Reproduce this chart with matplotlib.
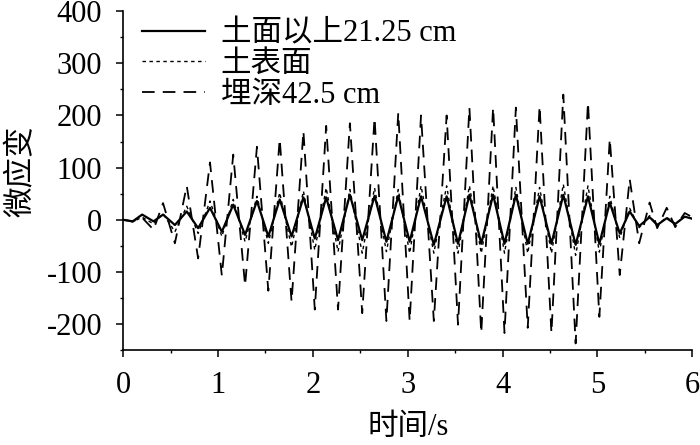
import numpy as np
import matplotlib
matplotlib.use("Agg")
import matplotlib.pyplot as plt
from matplotlib.ticker import MultipleLocator

plt.rcParams['font.family'] = ['Liberation Serif', 'Noto Sans CJK SC']
plt.rcParams['axes.unicode_minus'] = False

# time of each extremum (s), shared by the three gauges
t_ext = [0.00, 0.10, 0.20, 0.32, 0.42, 0.545, 0.67, 0.79, 0.915, 1.04,
         1.16, 1.285, 1.41, 1.53, 1.65, 1.775, 1.90, 2.02, 2.14, 2.265,
         2.39, 2.52, 2.65, 2.775, 2.90, 3.02, 3.14, 3.275, 3.41, 3.53,
         3.65, 3.775, 3.90, 4.02, 4.14, 4.265, 4.39, 4.515, 4.64, 4.77,
         4.90, 5.02, 5.13, 5.235, 5.34, 5.44, 5.55, 5.63, 5.73, 5.82,
         5.92, 6.00]

# 土面以上21.25 cm
above = [0, -3, 10, -3, 10, -10, 16, -16, 23, -23,
         29, -29, 36, -32, 39, -32, 43, -36, 43, -39,
         48, -39, 46, -42, 46, -42, 45, -48, 45, -46,
         48, -46, 48, -46, 48, -46, 45, -46, 48, -48,
         45, -46, 33, -26, 16, -12, 5, -10, 3, -8,
         6, 2]

# 土表面
surface = [0, -4, 5, -8, 12, -23, 26, -26, 36, -32,
           39, -42, 45, -45, 52, -52, 55, -58, 61, -61,
           58, -64, 61, -61, 58, -64, 65, -64, 65, -64,
           65, -64, 65, -64, 62, -64, 62, -64, 68, -68,
           65, -62, 45, -35, 22, -15, 8, -10, 5, -8,
           6, 2]

# 埋深42.5 cm
buried = [0, -3, 4, -19, 32, -45, 65, -74, 110, -107,
          125, -126, 140, -136, 155, -157, 170, -172, 180, -172,
          185, -179, 195, -194, 205, -194, 200, -194, 200, -201,
          215, -217, 215, -217, 215, -207, 218, -217, 240, -237,
          225, -186, 155, -106, 78, -45, 33, -16, 23, -14,
          13, 5]

fig = plt.figure(figsize=(7, 4.45), dpi=100)
ax = fig.add_axes([0.176, 0.213, 0.813, 0.762])

ax.plot(t_ext, buried, color='black', lw=1.3, ls=(0, (7, 4.5)),
        label='埋深42.5 cm', zorder=2)
ax.plot(t_ext, surface, color='black', lw=1.0, ls=(0, (2.5, 2.5)),
        label='土表面', zorder=3)
ax.plot(t_ext, above, color='black', lw=1.6, ls='-',
        solid_joinstyle='round', label='土面以上21.25 cm', zorder=4)

ax.set_xlim(0, 6)
ax.set_ylim(-250, 400)
ax.xaxis.set_major_locator(MultipleLocator(1))
ax.xaxis.set_minor_locator(MultipleLocator(0.5))
ax.yaxis.set_major_locator(MultipleLocator(100))
ax.yaxis.set_minor_locator(MultipleLocator(50))

for s in ['top', 'right']:
    ax.spines[s].set_visible(False)
for s in ['left', 'bottom']:
    ax.spines[s].set_linewidth(1.2)

ax.tick_params(which='major', direction='out', length=5, width=1.1,
               labelsize=22)
ax.tick_params(which='minor', direction='out', length=2.5, width=1.0)
ax.tick_params(axis='x', which='major', pad=10)
ax.tick_params(axis='y', which='major', pad=10)

ax.set_xlabel('时间/s', fontsize=22)
ax.set_ylabel('微应变', fontsize=22)
ax.xaxis.set_label_coords(0.5, -0.185)
ax.yaxis.set_label_coords(-0.152, 0.528)

h, l = ax.get_legend_handles_labels()
leg = ax.legend(h[::-1], l[::-1], loc='upper left', frameon=False,
                fontsize=22, handlelength=2.07, handletextpad=0.5,
                labelspacing=0.05, borderaxespad=0, borderpad=0,
                bbox_to_anchor=(0.033, 0.975))

fig.savefig('out.png', dpi=100)
